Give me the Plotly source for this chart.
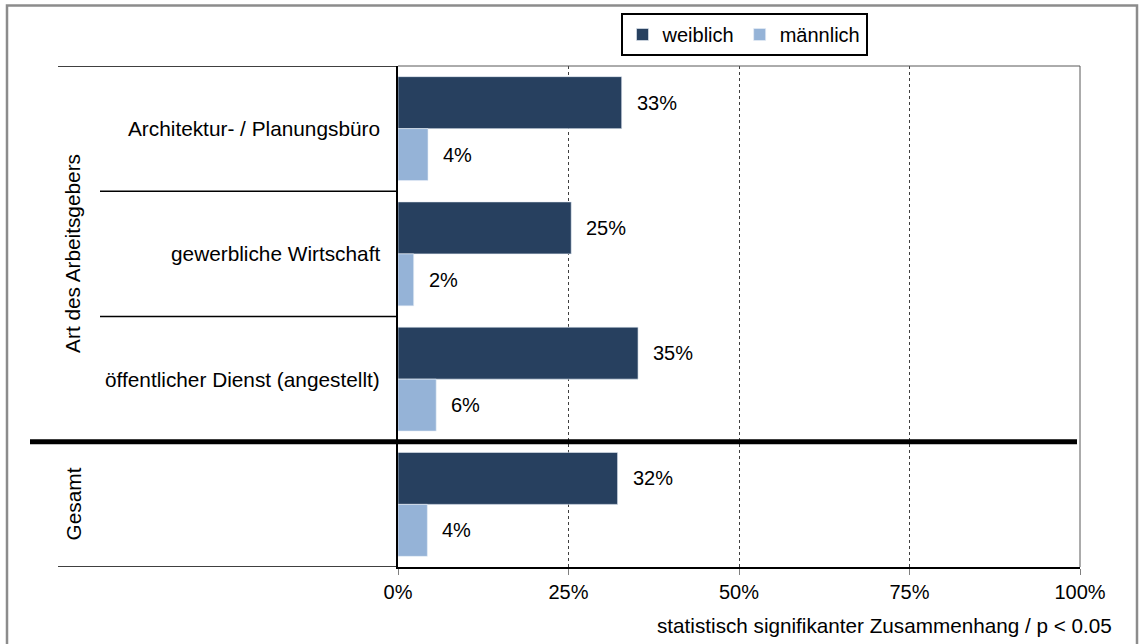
import plotly.graph_objects as go

categories = ["Architektur- / Planungsbüro", "gewerbliche Wirtschaft",
              "öffentlicher Dienst (angestellt)", "Gesamt"]
cat_labels = ["Architektur- / Planungsbüro", "gewerbliche Wirtschaft",
              "öffentlicher Dienst (angestellt)", ""]
weiblich = [32.8, 25.4, 35.2, 32.2]
maennlich = [4.4, 2.3, 5.6, 4.3]
group_labels = ["Art des Arbeitsgebers", "Gesamt"]
x_ticks = [0, 25, 50, 75, 100]
x_title = "statistisch signifikanter Zusammenhang / p < 0.05"

FONT = "Liberation Sans, Arial, sans-serif"
DARK = "#27405F"
LIGHT = "#95B3D7"

W, H = 1139, 644
L, R, T, B = 398, 1080, 66, 567
pw, ph = R - L, B - T


def px(x):
    return (x - L) / pw


def py(y):
    return (B - y) / ph


fig = go.Figure()
fig.add_trace(go.Bar(name="weiblich", y=categories, x=weiblich, orientation="h",
                     marker=dict(color=DARK, line=dict(color="#E8EEF6", width=0.6))))
fig.add_trace(go.Bar(name="männlich", y=categories, x=maennlich, orientation="h",
                     marker=dict(color=LIGHT, line=dict(color="#E8EEF6", width=0.6))))

annotations = []
for i, c in enumerate(categories):
    for j, vals in enumerate([weiblich, maennlich]):
        off = -0.2075 if j == 0 else 0.2075
        annotations.append(dict(x=vals[i], y=i + off, xref="x", yref="y",
                                text=f"{vals[i]:.0f}%", showarrow=False,
                                xanchor="left", yanchor="middle", xshift=13,
                                font=dict(family=FONT, size=20, color="#000")))
    if cat_labels[i]:
        annotations.append(dict(x=0, y=i, xref="paper", yref="y", text=cat_labels[i],
                                showarrow=False, xanchor="right", yanchor="middle",
                                xshift=-16, font=dict(family=FONT, size=20.8, color="#000")))

annotations.append(dict(x=px(73), y=1, xref="paper", yref="y", text=group_labels[0],
                        textangle=-90, showarrow=False, xanchor="center", yanchor="middle",
                        font=dict(family=FONT, size=20.8, color="#000")))
annotations.append(dict(x=px(73), y=3, xref="paper", yref="y", text=group_labels[1],
                        textangle=-90, showarrow=False, xanchor="center", yanchor="middle",
                        font=dict(family=FONT, size=20.8, color="#000")))
annotations.append(dict(x=px(1114), y=py(625), xref="paper", yref="paper", text=x_title,
                        showarrow=False, xanchor="right", yanchor="middle",
                        font=dict(family=FONT, size=20.7, color="#000")))

shapes = []
shapes.append(dict(type="rect", xref="paper", yref="paper", x0=px(7), x1=px(1137),
                   y0=py(650), y1=py(5.5), line=dict(color="#8C8C8C", width=2.5)))
shapes.append(dict(type="line", xref="paper", yref="paper", x0=0, x1=1, y0=1, y1=1,
                   line=dict(color="#595959", width=1)))
shapes.append(dict(type="line", xref="paper", yref="paper", x0=1, x1=1, y0=0, y1=1,
                   line=dict(color="#595959", width=1)))
shapes.append(dict(type="line", xref="paper", yref="y", x0=px(58), x1=0, y0=-0.5, y1=-0.5,
                   line=dict(color="#000", width=1.5)))
for yb in [0.5, 1.5]:
    shapes.append(dict(type="line", xref="paper", yref="y", x0=px(100), x1=0, y0=yb, y1=yb,
                       line=dict(color="#000", width=1.5)))
shapes.append(dict(type="line", xref="paper", yref="y", x0=px(58), x1=0, y0=3.5, y1=3.5,
                   line=dict(color="#000", width=1.5)))
shapes.append(dict(type="line", xref="paper", yref="y", x0=px(30), x1=px(1077), y0=2.5, y1=2.5,
                   line=dict(color="#000", width=5)))

fig.update_layout(
    width=W, height=H,
    margin=dict(l=L, r=W - R, t=T, b=H - B, pad=0, autoexpand=False),
    paper_bgcolor="white", plot_bgcolor="white",
    barmode="group", bargap=0.17, bargroupgap=0,
    font=dict(family=FONT, size=20, color="#000"),
    legend=dict(orientation="h", x=px(744), y=py(34.5), xanchor="center", yanchor="middle",
                bordercolor="#000", borderwidth=2, bgcolor="white",
                font=dict(family=FONT, size=20), itemwidth=30, tracegroupgap=0),
    xaxis=dict(range=[0, 100], tickvals=x_ticks, ticktext=[f"{v}%" for v in x_ticks],
               showgrid=True, gridcolor="#404040", griddash="dot", gridwidth=1,
               showline=True, linecolor="#000", linewidth=1.5,
               ticks="outside", ticklen=6, tickcolor="#808080",
               tickfont=dict(family=FONT, size=20), zeroline=False, fixedrange=True),
    yaxis=dict(categoryorder="array", categoryarray=categories, range=[3.5, -0.5],
               showticklabels=False, showgrid=False, zeroline=False,
               showline=True, linecolor="#000", linewidth=2, ticks="", fixedrange=True),
    annotations=annotations, shapes=shapes,
)

fig.write_html("out.html", config={"displayModeBar": False},
               post_script="document.body.style.margin='0';")
